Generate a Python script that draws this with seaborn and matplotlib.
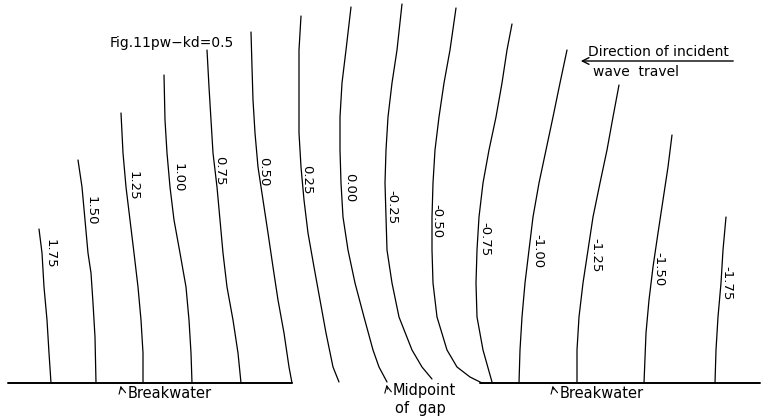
import numpy as np
import pandas as pd
import matplotlib
matplotlib.use("Agg")
import matplotlib.pyplot as plt
import seaborn as sns

sns.set_theme(style="white")
plt.rcParams['font.family'] = ['DejaVu Sans']
plt.rcParams['text.color'] = 'black'

# Curve values (horizontal position, height above breakwater line)
levels = ["1.75", "1.50", "1.25", "1.00", "0.75", "0.50", "0.25", "0.00",
          "-0.25", "-0.50", "-0.75", "-1.00", "-1.25", "-1.50", "-1.75"]

curve_x = [
    [39, 42, 44, 47, 49, 51],
    [78, 82, 85, 88, 91, 93, 95, 96],
    [121, 123, 126, 130, 134, 138, 141, 143, 143],
    [164, 165, 167, 170, 174, 180, 186, 189, 191, 192],
    [207, 209, 211, 213, 217, 220, 223, 227, 233, 238, 241],
    [251, 252, 253, 255, 258, 263, 268, 273, 278, 284, 289, 292],
    [301, 299, 299, 299, 301, 304, 308, 314, 320, 326, 333, 339],
    [351, 346, 342, 340, 340, 341, 343, 348, 355, 364, 373, 379, 387],
    [402, 397, 392, 388, 386, 385, 386, 387, 392, 399, 412, 422, 432],
    [456, 450, 444, 439, 435, 433, 432, 432, 433, 437, 447, 457, 470, 482],
    [512, 507, 502, 496, 489, 483, 479, 477, 476, 477, 483, 492],
    [567, 560, 553, 546, 539, 533, 529, 525, 522, 520, 519],
    [619, 613, 607, 600, 593, 588, 583, 579, 577, 577],
    [672, 668, 663, 658, 653, 649, 646, 644],
    [726, 723, 721, 718, 716, 715],
]
curve_h = [
    [154, 130, 96, 63, 30, 0],
    [223, 196, 163, 130, 110, 80, 46, 0],
    [270, 230, 196, 163, 130, 96, 63, 30, 0],
    [308, 263, 230, 196, 163, 130, 96, 63, 30, 0],
    [333, 296, 263, 230, 196, 163, 130, 96, 63, 30, 0],
    [351, 316, 283, 250, 216, 183, 150, 116, 83, 50, 16, 0],
    [367, 333, 283, 250, 216, 183, 150, 116, 83, 50, 16, 1],
    [376, 333, 300, 266, 233, 200, 166, 133, 100, 66, 33, 16, 1],
    [379, 333, 300, 266, 233, 200, 166, 133, 100, 66, 33, 16, 4],
    [375, 333, 300, 266, 233, 200, 166, 133, 100, 66, 33, 16, 6, 0],
    [359, 333, 300, 266, 233, 200, 166, 133, 100, 66, 33, 1],
    [333, 300, 266, 233, 200, 166, 133, 100, 66, 33, 0],
    [298, 266, 233, 200, 166, 133, 100, 66, 33, 0],
    [248, 216, 183, 150, 116, 83, 50, 0],
    [166, 133, 100, 66, 33, 0],
]

label_x = [50, 91, 133, 178, 220, 264, 307, 350, 392, 437, 485, 538, 596, 659, 727]
label_h = [129, 172, 197, 205, 212, 211, 203, 195, 176, 162, 144, 132, 128, 114, 100]

breakwater_left = [8, 292]
breakwater_right = [480, 760]

rows = []
for lev, xs, hs in zip(levels, curve_x, curve_h):
    for i, (x, h) in enumerate(zip(xs, hs)):
        rows.append({"level": lev, "x": x, "h": h, "order": i})
df = pd.DataFrame(rows)

bw = pd.DataFrame({
    "x": breakwater_left + breakwater_right,
    "h": [0, 0, 0, 0],
    "part": ["L", "L", "R", "R"],
})

fig = plt.figure(figsize=(7.61, 4.18), dpi=100)
ax = fig.add_axes([0, 0, 1, 1])

sns.lineplot(data=df, x="x", y="h", units="level", estimator=None, sort=False,
             color="black", lw=0.9, ax=ax, legend=False)
sns.lineplot(data=bw, x="x", y="h", units="part", estimator=None, sort=False,
             color="black", lw=1.4, ax=ax, legend=False)

for lev, lx, lh in zip(levels, label_x, label_h):
    ax.text(lx, lh, lev, rotation=-90, ha="center", va="center",
            fontsize=9.5, color="black")

ax.text(110, 340, "Fig.11pw\u2212kd=0.5", ha="left", va="center", fontsize=10)

ax.text(588, 331, "Direction of incident", ha="left", va="center", fontsize=10)
ax.text(593, 311, "wave  travel", ha="left", va="center", fontsize=10)
ax.annotate("", xy=(578, 322), xytext=(736, 322),
            arrowprops=dict(arrowstyle="->", color="black", lw=1.0))

# Breakwater labels
ax.annotate("", xy=(120, 0), xytext=(122, -9),
            arrowprops=dict(arrowstyle="->", color="black", lw=0.8))
ax.text(128, -11, "Breakwater", ha="left", va="center", fontsize=10.5)
ax.annotate("", xy=(552, 0), xytext=(554, -9),
            arrowprops=dict(arrowstyle="->", color="black", lw=0.8))
ax.text(560, -11, "Breakwater", ha="left", va="center", fontsize=10.5)

# Midpoint of gap
ax.annotate("", xy=(386, 1), xytext=(388, -9),
            arrowprops=dict(arrowstyle="->", color="black", lw=0.8))
ax.text(393, -8, "Midpoint", ha="left", va="center", fontsize=10.5)
ax.text(395, -25, "of  gap", ha="left", va="center", fontsize=10.5)

ax.set_xlim(0, 761)
ax.set_ylim(-35, 383)
ax.axis("off")

fig.savefig("out.png", dpi=100, facecolor="white")
